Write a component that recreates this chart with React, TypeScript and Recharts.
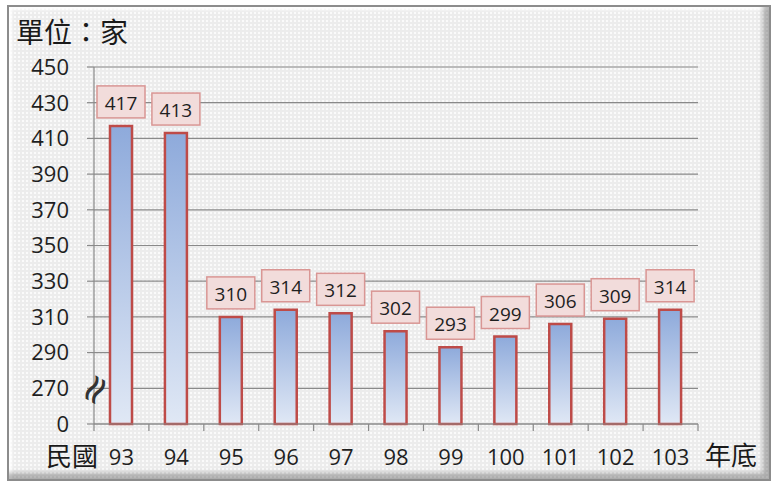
import { BarChart, Bar, XAxis, YAxis, CartesianGrid, LabelList } from "recharts";

const years = ["93", "94", "95", "96", "97", "98", "99", "100", "101", "102", "103"];
const stores = [417, 413, 310, 314, 312, 302, 293, 299, 306, 309, 314];
const yTickValues = [0, 270, 290, 310, 330, 350, 370, 390, 410, 430, 450];

// broken axis: 0 sits one step (20) below 270
const BREAK = 250;
const toPlot = (v: number) => (v === 0 ? 0 : v - BREAK);
const fromPlot = (t: number) => (t === 0 ? 0 : t + BREAK);

const data = years.map((year, i) => ({
  year,
  value: stores[i],
  plot: toPlot(stores[i]),
}));

const NUM_FONT = "'Open Sans', 'Liberation Sans', sans-serif";
const CJK_FONT = "'Noto Sans CJK TC', 'Noto Sans CJK SC', sans-serif";
const AXIS = "#8a8a8a";

const BoxLabel = (props: any) => {
  const { x, y, width, value } = props;
  const cx = Number(x) + Number(width) / 2;
  const w = 48;
  const h = 32;
  const by = Number(y) - 8 - h;
  return (
    <g>
      <rect x={cx - w / 2} y={by} width={w} height={h} fill="#f2dcdb" stroke="#d99694" strokeWidth={1.5} />
      <text
        x={cx}
        y={by + h / 2 + 1}
        textAnchor="middle"
        dominantBaseline="central"
        fontSize={19}
        fontFamily={NUM_FONT}
        fill="#1f1f1f"
      >
        {value}
      </text>
    </g>
  );
};

// year label plus tick marks on the category boundaries
const YearTick = (props: any) => {
  const { x, y, payload, index } = props;
  const half = Number(payload?.offset) || 0;
  const last = index === years.length - 1;
  return (
    <g>
      <line x1={x - half} x2={x - half} y1={y} y2={y + 7} stroke={AXIS} strokeWidth={1.2} />
      {last && <line x1={x + half} x2={x + half} y1={y} y2={y + 7} stroke={AXIS} strokeWidth={1.2} />}
      <text x={x} y={y + 41} textAnchor="middle" fontSize={22} fontFamily={NUM_FONT} fill="#1f1f1f">
        {payload.value}
      </text>
    </g>
  );
};

export default function App() {
  return (
    <div style={{ position: "absolute", left: 0, top: 0, width: 771, height: 483, background: "#fff" }}>
      <div
        style={{
          position: "absolute",
          left: 7,
          top: 5,
          width: 764,
          height: 476,
          boxSizing: "border-box",
          border: "2px solid #8c8c8c",
          backgroundColor: "#ececec",
          backgroundImage: "radial-gradient(#fafafa 0.8px, transparent 1.3px)",
          backgroundSize: "4px 4px",
          boxShadow: "inset -6px -6px 5px rgba(0,0,0,0.28), inset 3px 3px 3px rgba(255,255,255,0.9)",
        }}
      />
      <div style={{ position: "absolute", left: 0, top: 0 }}>
        <BarChart
          width={771}
          height={483}
          data={data}
          margin={{ top: 67, right: 73, bottom: 29, left: 0 }}
          barSize={22}
        >
          <defs>
            <linearGradient id="barFill" x1="0" y1="0" x2="0" y2="1">
              <stop offset="0%" stopColor="#8eaadb" />
              <stop offset="100%" stopColor="#e0e8f5" />
            </linearGradient>
          </defs>
          <CartesianGrid vertical={false} stroke={AXIS} strokeWidth={1.2} />
          <XAxis
            dataKey="year"
            height={30}
            axisLine={{ stroke: AXIS, strokeWidth: 1.2 }}
            tickLine={false}
            tickSize={0}
            tickMargin={0}
            tick={YearTick}
            interval={0}
          />
          <YAxis
            width={94}
            domain={[0, 200]}
            ticks={yTickValues.map(toPlot)}
            tickFormatter={(t: number) => String(fromPlot(t))}
            axisLine={{ stroke: AXIS, strokeWidth: 1.2 }}
            tickLine={{ stroke: AXIS, strokeWidth: 1.2 }}
            tickSize={7}
            tickMargin={18}
            tick={{ fontSize: 22, fontFamily: NUM_FONT, fill: "#1f1f1f" }}
            interval={0}
          />
          <Bar
            dataKey="plot"
            fill="url(#barFill)"
            stroke="#be4b48"
            strokeWidth={2.5}
            isAnimationActive={false}
          >
            <LabelList dataKey="value" content={BoxLabel} />
          </Bar>
        </BarChart>
      </div>
      <div style={{ position: "absolute", left: 16, top: 17, fontSize: 28, lineHeight: 1, fontFamily: CJK_FONT, color: "#1a1a1a" }}>
        單位：家
      </div>
      <div style={{ position: "absolute", left: 46, top: 443, height: 24, fontSize: 26, lineHeight: "24px", fontFamily: CJK_FONT, color: "#1a1a1a" }}>
        民國
      </div>
      <div style={{ position: "absolute", left: 705, top: 442, height: 24, fontSize: 26, lineHeight: "24px", fontFamily: CJK_FONT, color: "#1a1a1a" }}>
        年底
      </div>
      <div
        style={{
          position: "absolute",
          left: 94,
          top: 389,
          fontSize: 40,
          lineHeight: 1,
          fontFamily: "'DejaVu Sans', sans-serif",
          color: "#333",
          transform: "translate(-50%, -50%) rotate(-60deg)",
        }}
      >
        ≈
      </div>
    </div>
  );
}
